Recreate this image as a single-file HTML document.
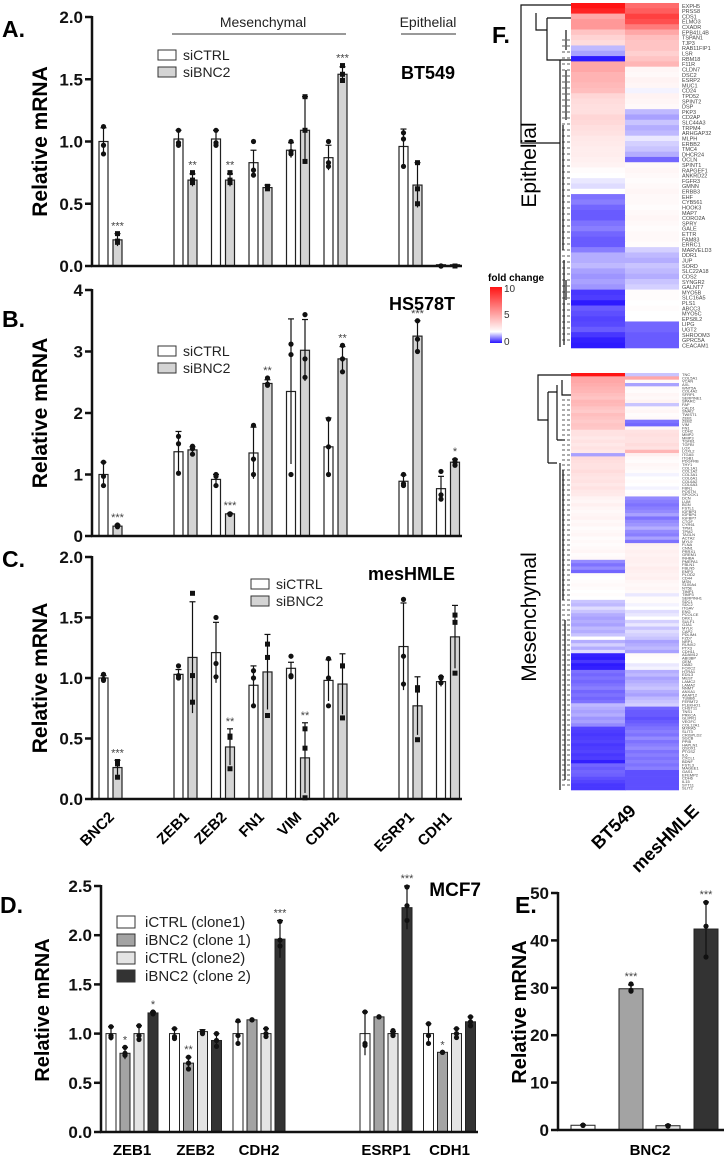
<!DOCTYPE html>
<html><head><meta charset="utf-8"><style>
html,body{margin:0;padding:0;background:#fff;}
svg{display:block;font-family:"Liberation Sans",sans-serif;}
</style></head><body>
<svg id="fig" width="724" height="1161" viewBox="0 0 724 1161" xmlns="http://www.w3.org/2000/svg">
<defs><linearGradient id="cbar" x1="0" y1="1" x2="0" y2="0">
<stop offset="0" stop-color="#2814ff"/><stop offset="0.2" stop-color="#ffffff"/><stop offset="1" stop-color="#ff1414"/></linearGradient></defs>
</svg>
<script>
// ---------- Panel A-C data ----------
const genesABC = ["BNC2","ZEB1","ZEB2","FN1","VIM","CDH2","ESRP1","CDH1"];
const slotsABC = [0,2,3,4,5,6,8,9];
const aCtrl = [1.0,1.02,1.02,0.83,0.93,0.87,0.96,0.01];
const aCtrlSd = [0.11,0.07,0.07,0.1,0.06,0.1,0.14,0];
const aKd = [0.21,0.69,0.69,0.63,1.09,1.54,0.65,0.01];
const aKdSd = [0.05,0.05,0.05,0.02,0.27,0.06,0.18,0];
const aCtrlPts = [[1.12,0.97,0.9],[1.09,0.99,0.97],[1.09,0.99,0.97],[1.0,0.77,0.73],[1.0,0.9,0.92],[1.0,0.8,0.83],[1.07,1.02,0.8],[0,0,0]];
const aKdPts = [[0.26,0.2,0.19],[0.75,0.69,0.67],[0.75,0.69,0.67],[0.64,0.63,0.62],[1.36,1.09,0.84],[1.61,1.54,1.49],[0.83,0.62,0.5],[0,0,0]];
const aStars = ["***","**","**","","","***","",""];

const bCtrl = [1.0,1.37,0.92,1.35,2.35,1.45,0.89,0.77];
const bCtrlSd = [0.2,0.33,0.08,0.42,1.18,0.47,0.1,0.2];
const bKd = [0.16,1.4,0.36,2.48,3.02,2.88,3.25,1.2];
const bKdSd = [0.02,0.05,0.01,0.06,0.5,0.2,0.25,0.05];
const bCtrlPts = [[1.2,0.97,0.82],[1.62,1.5,1.02],[1.0,0.97,0.82],[1.8,1.25,1.0],[3.12,2.95,1.0],[1.9,1.45,1.0],[1.0,0.85,0.82],[1.05,0.67,0.6]];
const bKdPts = [[0.18,0.16,0.15],[1.46,1.42,1.33],[0.36,0.36,0.35],[2.57,2.47,2.45],[3.6,2.88,2.58],[3.1,2.88,2.67],[3.5,3.2,3.0],[1.24,1.2,1.15]];
const bStars = ["***","","***","**","","**","***","*"];

const cCtrl = [1.0,1.03,1.21,0.94,1.08,0.98,1.26,0.97];
const cCtrlSd = [0.02,0.04,0.25,0.16,0.05,0.17,0.36,0.04];
const cKd = [0.26,1.17,0.43,1.05,0.34,0.95,0.77,1.34];
const cKdSd = [0.06,0.46,0.15,0.31,0.29,0.25,0.24,0.26];
const cCtrlPts = [[1.03,0.99,0.98],[1.1,1.02,1.0],[1.5,1.12,1.01],[1.06,1.0,0.77],[1.18,1.02,1.01],[1.16,1.0,0.77],[1.65,1.18,0.95],[1.01,1.0,0.96]];
const cKdPts = [[0.31,0.29,0.18],[1.7,1.02,0.8],[0.52,0.51,0.25],[1.28,1.17,0.69],[0.58,0.42,0.01],[1.1,1.1,0.67],[0.92,0.9,0.49],[1.52,1.46,1.04]];
const cStars = ["***","","**","","**","","",""];

const ticksA = [0,0.5,1,1.5,2]; const tickLabA = ["0.0","0.5","1.0","1.5","2.0"];
const ticksB = [0,1,2,3,4]; const tickLabB = ["0","1","2","3","4"];

// ---------- Panel D data ----------
const genesD = ["ZEB1","ZEB2","CDH2","ESRP1","CDH1"];
const slotsD = [0,1,2,4,5];
const seriesD = ["iCTRL (clone1)","iBNC2 (clone 1)","iCTRL (clone2)","iBNC2 (clone 2)"];
const dC1 = [1.0,1.0,1.0,1.0,1.0];
const dK1 = [0.8,0.7,1.14,1.17,0.81];
const dC2 = [1.0,1.02,1.0,1.0,1.0];
const dK2 = [1.21,0.93,1.96,2.28,1.12];
const dC1Sd = [0.07,0.05,0.12,0.22,0.1];
const dK1Sd = [0.06,0.06,0,0,0];
const dC2Sd = [0.08,0.02,0.05,0.02,0.05];
const dK2Sd = [0.01,0.07,0.19,0.22,0.05];
const dC1Pts = [[1.07,0.98,0.96],[1.05,0.97,0.95],[1.13,0.98,0.9],[1.22,0.9,0.88],[1.1,0.98,0.9]];
const dK1Pts = [[0.86,0.8,0.78],[0.76,0.7,0.64],[1.14,1.14,1.14],[1.17,1.17,1.17],[0.81,0.81,0.81]];
const dC2Pts = [[1.08,0.98,0.94],[1.02,1.02,1.0],[1.05,1.0,0.97],[1.03,1.0,0.98],[1.05,1.0,0.96]];
const dK2Pts = [[1.22,1.21,1.2],[1.0,0.93,0.87],[2.14,1.95,1.89],[2.49,2.3,2.15],[1.17,1.12,1.08]];
const dK1Stars = ["*","**","","","*"];
const dK2Stars = ["*","","***","***",""];
const ticksD = [0,0.5,1,1.5,2,2.5]; const tickLabD = ["0.0","0.5","1.0","1.5","2.0","2.5"];

// ---------- Panel E data ----------
const eVals = [1.0,29.8,0.9,42.4];
const eSd = [0.1,0.8,0.2,5.7];
const ePts = [[1,1,1],[30.8,29.5,29.3],[0.9,0.8,0.9],[48,43,36.5]];
const eStars = ["","***","","***"];
const ticksE = [0,10,20,30,40,50]; const tickLabE = ["0","10","20","30","40","50"];

// ---------- Panel F data ----------
const hmTopBT = [10,9.5,5,5.5,5.5,4,3.5,3.2,1.4,1.2,0.05,5,5,4.6,4.6,4.4,4.2,3.4,3.2,3.1,3.1,3.4,3.3,3.1,3.0,2.8,2.7,2.6,2.6,2.5,2.4,2.1,2.0,1.8,1.7,2.0,0.8,0.9,0.7,0.6,0.6,0.8,0.9,0.7,0.6,0.6,0.9,1.3,1.3,1.4,1.2,1.1,1.2,1.1,0.3,0.35,0.05,0.6,0.5,0.4,0.45,0.6,0.3,0.1,0.05];
const hmTopMH = [7,7.5,8.5,8,6.5,5,4.2,4,4,3.6,4,4.5,2.3,2.2,2.4,2.3,1.9,2.4,2.3,2.2,1.4,1.2,1.5,1.3,1.4,1.8,1.6,1.5,1.3,0.7,2.2,2.3,2.2,2.1,2.2,2.3,2.2,2.2,2.1,2.2,2.3,2.2,2.1,2.2,2.2,2.1,1.6,1.4,1.3,1.5,1.4,1.3,1.5,1.6,2.1,2.1,2.0,2.1,2.0,2.0,0.7,0.7,0.6,0.6,0.6];
const hmBotBT = [10,5,5,4.8,4.6,4.5,4.2,4,4.5,4.4,4,3.8,4.2,4,3.8,4,3.9,3,3,2.8,3,2.8,3,2.8,1.2,3.2,3.1,3,3,3.2,3,2.9,3,2.8,3,2.8,2.7,2.4,2.3,2.5,2.3,2.2,2.3,2.4,2.2,2.3,2.1,2.2,2.3,2.1,2.2,2.1,2.2,2.3,2.1,2.2,1.0,0.8,1.0,0.7,2.1,2.0,2.1,2.2,2.1,2.0,2.1,2.0,1.5,1.4,1.7,1.5,1.3,1.2,1.3,1.2,1.4,1.3,1.5,2.0,1.3,1.6,1.3,1.7,0.1,0.05,0.3,0.05,0.1,0.8,0.7,0.8,0.7,0.8,0.9,0.7,0.8,0.7,0.8,1.4,1.3,1.2,1.3,1.1,1.2,1.0,0.4,0.35,0.3,0.35,0.4,0.3,0.35,0.4,0.3,0.35,0.1,0.7,0.6,0.7,0.65,0.5,0.4,0.3,0.3];
const hmBotMH = [1.5,5,2.2,1.2,2.2,2.1,2.3,2.2,2.4,1.5,2.2,2.3,2.1,2.2,0.8,0.7,2.3,3,3.1,3,3,3.2,3,4.5,2.5,2.2,2.1,2.3,2.2,2.1,1.9,2.0,2.1,2.0,1.9,2.0,2.1,1.0,0.9,0.8,0.9,1.0,1.2,0.8,1.0,1.1,1.3,1.0,0.9,1.2,0.8,2.5,2.4,2.5,2.4,2.5,2.5,2.4,2.6,2.5,2.4,2.5,2.3,2.2,2.3,2.2,1.8,2.1,2.1,1.9,2.0,1.7,1.8,2.0,1.6,1.8,1.5,1.7,1.6,1.5,1.2,1.3,1.4,1.2,2.2,2.1,2.0,1.8,1.9,1.3,1.4,1.2,1.3,1.4,1.5,1.3,1.2,1.4,1.5,1.6,0.7,0.6,0.6,0.5,0.6,0.7,0.8,0.9,0.8,1.0,0.8,0.9,1.0,0.8,0.9,0.8,0.9,0.8,0.9,0.5,0.5,0.5,0.5,0.5,0.5];
const topGenes = ["EXPH5","PRSS8","CDS1","ELMO3","CXADR","EPB41L4B","TSPAN1","TJP3","RAB11FIP1","LSR","RBM18","F11R","CLDN7","DSC2","ESRP2","MUC1","CD24","TPD52","SPINT2","DSP","PKP3","CD2AP","SLC44A3","TRPM4","ARHGAP32","MLPH","ERBB2","TMC4","DHCR24","OCLN","SPINT1","RAPGEF1","ANKRD22","FGFR3","GMNN","ERBB3","EHF","CYB561","HOOK3","MAP7","CORO2A","SPRY","GALE","ETTR","FAM83","ERRC1","MARVELD3","DDR1","JUP","SORD","SLC22A18","CDS2","SYNGR2","GALNT7","MYO5B","SLC16A5","PLS1","ABCC3","MYO5C","EPS8L2","LIPG","UGT2","SHROOM3","GPRC5A","CEACAM1","GDF15"];
const botGenes = ["TNC","COL5A1","VCAN","AXL","WNT5A","COL4A2","SFRP1","SERPINE1","SPARC","FAP","CALD1","SNAI2","TWIST1","ZEB1","ZEB2","VIM","FN1","CDH2","MMP2","MMP3","TGFB1","TGFBI","LOX","LOXL2","ITGA5","ITGB1","PDGFRB","THY1","COL1A1","COL1A2","COL3A1","COL6A1","COL6A2","COL6A3","FBN1","POSTN","SPOCK1","DCN","LUM","BGN","FSTL1","IGFBP3","IGFBP4","IGFBP7","CTGF","CYR61","TPM1","TPM2","TAGLN","ACTA2","MYL9","FLNA","CNN1","PRRX1","GREM1","INHBA","PMEPA1","FBLN1","FBLN5","EMP3","PLOD2","CD44","MSN","S100A4","NT5E","TIMP1","TIMP3","SERPINH1","SDC1","SDC2","ITGAV","ENG","PCOLCE","DKK1","SULF1","GJA1","MYLK","CAP2","PDLIM4","FZD7","NRP1","RUNX2","PTX3","CDH11","ADAM12","ABI3BP","GEM","DAB2","FOXC2","HTRA1","EDIL3","MEST","LAMC2","LAMA2","NNMT","ANXA1","AKAP12","TUBB6","FERMT2","PLEKHO1","CHST11","TNS1","PRKCA","GLIPR1","VEGFC","COL12A1","MXRA5","SLIT3","CRISPLD2","SGCB","PPIB","HAPLN1","QSOX1","PTGS2","IL6","CXCL1","BDNF","FSTL3","MAGEE1","GAS1","EFEMP2","CDH6","IL15","SYT11","SLIT2"];

const NS = "http://www.w3.org/2000/svg";
const svg = document.getElementById("fig");
function mk(tag, attrs, name) {
  const el = document.createElementNS(NS, tag);
  for (const k in attrs) el.setAttribute(k, attrs[k]);
  
  
  svg.appendChild(el);
  return el;
}
function txt(x, y, s, attrs, name) {
  const el = mk("text", Object.assign({x: x, y: y}, attrs), name);
  el.textContent = s;
  return el;
}
function yScale(v, vmax, yTop, y0) { return y0 - (v / vmax) * (y0 - yTop); }

function marks(cx, mean, sd, pts, stars, sy, shape, name) {
  const ym = sy(mean), ye = sy(mean + sd), yl = sy(Math.max(0, mean - sd));
  if (sd > 0) {
    mk("line", {x1: cx, x2: cx, y1: ye, y2: yl, stroke: "#111", "stroke-width": 1.2}, name + "-errorbar");
    mk("line", {x1: cx - 3, x2: cx + 3, y1: ye, y2: ye, stroke: "#111", "stroke-width": 1.2}, name + "-errorcap");
  }
  pts.forEach(p => {
    const py = sy(p);
    if (shape === "sq") mk("rect", {x: cx - 2.5, y: py - 2.5, width: 5, height: 5, fill: "#111"}, name + "-point");
    else mk("circle", {cx: cx, cy: py, r: 2.6, fill: "#111"}, name + "-point");
  });
  if (stars) {
    const top = Math.min(ye, ...pts.map(sy));
    txt(cx, top - 4, stars, {"font-size": 11, fill: "#444", "text-anchor": "middle"}, name + "-significance");
  }
}

function yAxis(x, yTop, y0, vmax, ticks, labels, name, fs) {
  mk("line", {x1: x, x2: x, y1: yTop - 1, y2: y0, stroke: "#111", "stroke-width": 2.5}, name + "-y-axis");
  ticks.forEach((t, i) => {
    const y = yScale(t, vmax, yTop, y0);
    mk("line", {x1: x - 7, x2: x, y1: y, y2: y, stroke: "#111", "stroke-width": 2.5}, name + "-y-tick");
    txt(x - 9, y + 6, labels[i], {"font-size": fs, "font-weight": "bold", "text-anchor": "end", fill: "#111"}, name + "-y-tick-label");
  });
}

function panelABC(p) {
  const sy = v => yScale(v, p.vmax, p.yTop, p.y0);
  yAxis(92, p.yTop, p.y0, p.vmax, p.ticks, p.labels, p.name, 17);
  genesABC.forEach((g, i) => {
    const xl = 99 + 37.5 * slotsABC[i];
    const h1 = Math.max(1, p.y0 - sy(p.ctrl[i]));
    mk("rect", {x: xl, y: p.y0 - h1, width: 9, height: h1, fill: "#fff", stroke: "#222", "stroke-width": 1.2}, p.name + "-bar-sictrl-" + g.toLowerCase());
    const h2 = Math.max(1, p.y0 - sy(p.kd[i]));
    mk("rect", {x: xl + 14, y: p.y0 - h2, width: 9, height: h2, fill: "#d4d4d4", stroke: "#222", "stroke-width": 1.2}, p.name + "-bar-sibnc2-" + g.toLowerCase());
    marks(xl + 4.5, p.ctrl[i], p.ctrlSd[i], p.ctrlPts[i], "", sy, "c", p.name + "-sictrl-" + g.toLowerCase());
    marks(xl + 18.5, p.kd[i], p.kdSd[i], p.kdPts[i], p.stars[i], sy, p.kdShape, p.name + "-sibnc2-" + g.toLowerCase());
  });
  mk("line", {x1: 91, x2: 462, y1: p.y0, y2: p.y0, stroke: "#111", "stroke-width": 2.5}, p.name + "-x-axis");
  txt(0, 0, "Relative mRNA", {"font-size": 21, "font-weight": "bold", "text-anchor": "middle", transform: "translate(47," + ((p.yTop + p.y0) / 2) + ") rotate(-90)"}, p.name + "-y-axis-title");
  mk("rect", {x: p.lx, y: p.ly, width: 18, height: 10, fill: "#fff", stroke: "#333", "stroke-width": 1}, p.name + "-legend-swatch-sictrl");
  txt(p.lx + 25, p.ly + 10, "siCTRL", {"font-size": 14, fill: "#222"}, p.name + "-legend-label-sictrl");
  mk("rect", {x: p.lx, y: p.ly + 17, width: 18, height: 10, fill: "#d4d4d4", stroke: "#333", "stroke-width": 1}, p.name + "-legend-swatch-sibnc2");
  txt(p.lx + 25, p.ly + 27, "siBNC2", {"font-size": 14, fill: "#222"}, p.name + "-legend-label-sibnc2");
  txt(455, p.cy, p.cell, {"font-size": 18, "font-weight": "bold", "text-anchor": "end"}, p.name + "-cell-line-title");
  txt(2, p.letterY, p.letter, {"font-size": 23, "font-weight": "bold"}, p.name + "-panel-letter");
}

panelABC({name: "panel-a", yTop: 17, y0: 266, vmax: 2, ticks: ticksA, labels: tickLabA, ctrl: aCtrl, ctrlSd: aCtrlSd, kd: aKd, kdSd: aKdSd, ctrlPts: aCtrlPts, kdPts: aKdPts, stars: aStars, kdShape: "sq", lx: 158, ly: 50, cell: "BT549", cy: 79, letter: "A.", letterY: 37});
panelABC({name: "panel-b", yTop: 290, y0: 536, vmax: 4, ticks: ticksB, labels: tickLabB, ctrl: bCtrl, ctrlSd: bCtrlSd, kd: bKd, kdSd: bKdSd, ctrlPts: bCtrlPts, kdPts: bKdPts, stars: bStars, kdShape: "c", lx: 158, ly: 346, cell: "HS578T", cy: 310, letter: "B.", letterY: 327});
panelABC({name: "panel-c", yTop: 557, y0: 799, vmax: 2, ticks: ticksA, labels: tickLabA, ctrl: cCtrl, ctrlSd: cCtrlSd, kd: cKd, kdSd: cKdSd, ctrlPts: cCtrlPts, kdPts: cKdPts, stars: cStars, kdShape: "sq", lx: 251, ly: 579, cell: "mesHMLE", cy: 580, letter: "C.", letterY: 567});

// group headers in A
txt(263, 27, "Mesenchymal", {"font-size": 14, "text-anchor": "middle", fill: "#222"}, "mesenchymal-group-label");
mk("line", {x1: 172, x2: 346, y1: 34, y2: 34, stroke: "#333", "stroke-width": 1}, "mesenchymal-group-line");
txt(428, 27, "Epithelial", {"font-size": 14, "text-anchor": "middle", fill: "#222"}, "epithelial-group-label");
mk("line", {x1: 401, x2: 456, y1: 34, y2: 34, stroke: "#333", "stroke-width": 1}, "epithelial-group-line");

// C x labels
genesABC.forEach((g, i) => {
  const cx = 99 + 37.5 * slotsABC[i] + 16;
  txt(0, 0, g, {"font-size": 15, "font-weight": "bold", "text-anchor": "end", transform: "translate(" + cx + ",818) rotate(-45)"}, "x-label-" + g.toLowerCase());
});

// ---------- Panel D ----------
(function () {
  const yTop = 886, y0 = 1132, vmax = 2.5;
  const sy = v => yScale(v, vmax, yTop, y0);
  yAxis(101, yTop, y0, vmax, ticksD, tickLabD, "panel-d", 17);
  const vals = [dC1, dK1, dC2, dK2], sds = [dC1Sd, dK1Sd, dC2Sd, dK2Sd], pts = [dC1Pts, dK1Pts, dC2Pts, dK2Pts];
  const stars = [null, dK1Stars, null, dK2Stars];
  const fills = ["#ffffff", "#a3a3a3", "#e4e4e4", "#333333"];
  genesD.forEach((g, i) => {
    const gl = 106 + 63.5 * slotsD[i];
    for (let k = 0; k < 4; k++) {
      const xl = gl + 14 * k, h = y0 - sy(vals[k][i]);
      mk("rect", {x: xl, y: y0 - h, width: 10, height: h, fill: fills[k], stroke: "#222", "stroke-width": 1}, "panel-d-bar-" + g.toLowerCase() + "-s" + k);
      marks(xl + 5, vals[k][i], sds[k][i], pts[k][i], stars[k] ? stars[k][i] : "", sy, "c", "panel-d-" + g.toLowerCase() + "-s" + k);
    }
    txt(gl + 26, 1155, g, {"font-size": 15, "font-weight": "bold", "text-anchor": "middle"}, "panel-d-x-label-" + g.toLowerCase());
  });
  mk("line", {x1: 100, x2: 478, y1: y0, y2: y0, stroke: "#111", "stroke-width": 2.5}, "panel-d-x-axis");
  txt(0, 0, "Relative mRNA", {"font-size": 20, "font-weight": "bold", "text-anchor": "middle", transform: "translate(49,1010) rotate(-90)"}, "panel-d-y-axis-title");
  seriesD.forEach((s, k) => {
    mk("rect", {x: 117, y: 916 + 18 * k, width: 18, height: 12, fill: fills[k], stroke: "#333", "stroke-width": 1}, "panel-d-legend-swatch");
    txt(145, 927 + 18 * k, s, {"font-size": 15, fill: "#222"}, "panel-d-legend-label");
  });
  txt(481, 896, "MCF7", {"font-size": 19, "font-weight": "bold", "text-anchor": "end"}, "panel-d-cell-line-title");
  txt(0, 913, "D.", {"font-size": 23, "font-weight": "bold"}, "panel-d-letter");
})();

// ---------- Panel E ----------
(function () {
  const yTop = 893, y0 = 1130, vmax = 50;
  const sy = v => yScale(v, vmax, yTop, y0);
  yAxis(558, yTop, y0, vmax, ticksE, tickLabE, "panel-e", 17);
  const fills = ["#ffffff", "#a3a3a3", "#e4e4e4", "#333333"];
  const lefts = [571, 619, 656, 694];
  eVals.forEach((v, k) => {
    const h = Math.max(1, y0 - sy(v));
    mk("rect", {x: lefts[k], y: y0 - h, width: 24, height: h, fill: fills[k], stroke: "#222", "stroke-width": 1}, "panel-e-bar-" + k);
    marks(lefts[k] + 12, v, eSd[k], ePts[k], eStars[k], sy, "c", "panel-e-bnc2-s" + k);
  });
  mk("line", {x1: 557, x2: 724, y1: y0, y2: y0, stroke: "#111", "stroke-width": 2.5}, "panel-e-x-axis");
  txt(650, 1155, "BNC2", {"font-size": 15, "font-weight": "bold", "text-anchor": "middle"}, "panel-e-x-label");
  txt(0, 0, "Relative mRNA", {"font-size": 20, "font-weight": "bold", "text-anchor": "middle", transform: "translate(526,1012) rotate(-90)"}, "panel-e-y-axis-title");
  txt(515, 913, "E.", {"font-size": 23, "font-weight": "bold"}, "panel-e-letter");
})();

// ---------- Panel F heatmap ----------
function hcol(v) {
  let r, g, b;
  if (v < 2) { const t = Math.max(0, v) / 2; r = 40 + 215 * t; g = 20 + 235 * t; b = 255; }
  else { const t = Math.min(1, (v - 2) / 8); r = 255; g = 255 - 235 * t; b = 255 - 235 * t; }
  return "rgb(" + Math.round(r) + "," + Math.round(g) + "," + Math.round(b) + ")";
}
function block(bt, mh, genes, y1, y2, name, fs) {
  const rh = (y2 - y1) / bt.length;
  bt.forEach((v, i) => {
    mk("rect", {x: 571, y: y1 + i * rh, width: 54.5, height: rh + 0.3, fill: hcol(v)}, name + "-cell-bt549");
    mk("rect", {x: 625, y: y1 + i * rh, width: 54, height: rh + 0.3, fill: hcol(mh[i])}, name + "-cell-meshmle");
    if (genes[i]) txt(682, y1 + (i + 0.9) * rh, genes[i], {"font-size": fs, fill: "#444"}, name + "-gene-label");
  });
}
block(hmTopBT, hmTopMH, topGenes, 3, 348, "heatmap-epithelial", 5.5);
block(hmBotBT, hmBotMH, botGenes, 373, 790, "heatmap-mesenchymal", 4);

// dendrograms
mk("path", {d: "M571,5 H521 V143 H560 M521,143 V143 M560,60 V347 M560,60 H571 M547,18 H571 M547,18 V60 H560 M536,13 V30 H547 M566,30 V50 M566,70 V120 M563,125 V250 M564,260 V345 M566,280 V300", stroke: "#111", fill: "none", "stroke-width": 1.2}, "dendrogram-epithelial");
mk("path", {d: "M571,375 H538 V420 H548 M548,392 V463 M548,392 H557 M548,463 H557 M557,385 V440 M557,440 H565 M560,463 V790 M563,470 V600 M565,620 V780 M562,380 V395 H571", stroke: "#111", fill: "none", "stroke-width": 1.2}, "dendrogram-mesenchymal");
for (let y = 40; y < 346; y += 6) mk("line", {x1: 562, x2: 571, y1: y, y2: y, stroke: "#222", "stroke-width": 0.8, "stroke-dasharray": "3,2"}, "dendrogram-leaf");
for (let y = 400; y < 790; y += 5) mk("line", {x1: 562, x2: 571, y1: y, y2: y, stroke: "#222", "stroke-width": 0.8, "stroke-dasharray": "3,2"}, "dendrogram-leaf");

txt(0, 0, "Epithelial", {"font-size": 21, "text-anchor": "middle", transform: "translate(536,165) rotate(-90)"}, "heatmap-epithelial-title");
txt(0, 0, "Mesenchymal", {"font-size": 21, "text-anchor": "middle", transform: "translate(536,617) rotate(-90)"}, "heatmap-mesenchymal-title");
txt(488, 281, "fold change", {"font-size": 10, "font-weight": "bold"}, "colorbar-title");
mk("rect", {x: 490, y: 287, width: 12, height: 56, fill: "url(#cbar)"}, "colorbar");
txt(504, 292, "10", {"font-size": 10, fill: "#333"}, "colorbar-label-10");
txt(504, 318, "5", {"font-size": 10, fill: "#333"}, "colorbar-label-5");
txt(504, 345, "0", {"font-size": 10, fill: "#333"}, "colorbar-label-0");
txt(0, 0, "BT549", {"font-size": 18, "font-weight": "bold", "text-anchor": "end", transform: "translate(637,812) rotate(-45)"}, "heatmap-x-label-bt549");
txt(0, 0, "mesHMLE", {"font-size": 18, "font-weight": "bold", "text-anchor": "end", transform: "translate(700,812) rotate(-45)"}, "heatmap-x-label-meshmle");
txt(492, 43, "F.", {"font-size": 23, "font-weight": "bold"}, "panel-f-letter");
</script>
</body></html>
